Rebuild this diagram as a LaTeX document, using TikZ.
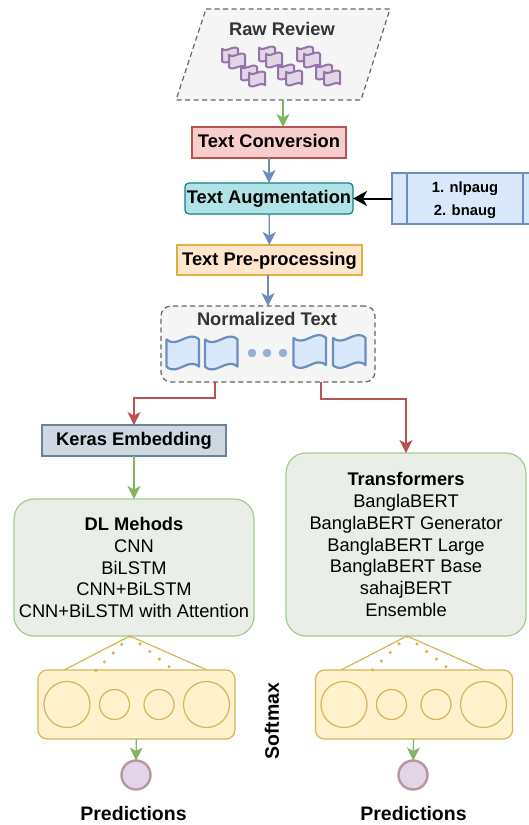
\documentclass[tikz,border=0pt]{standalone}
\usepackage{fontspec}
\setmainfont{Liberation Sans}
\usetikzlibrary{arrows.meta,calc}
\definecolor{graybg}{HTML}{F5F5F5}
\definecolor{grayln}{HTML}{666666}
\definecolor{purbg}{HTML}{E1D5E7}
\definecolor{purln}{HTML}{9673A6}
\definecolor{redbg}{HTML}{F8CECC}
\definecolor{redln}{HTML}{B85450}
\definecolor{tealbg}{HTML}{B0E3E6}
\definecolor{tealln}{HTML}{0E8088}
\definecolor{orbg}{HTML}{FFE6CC}
\definecolor{orln}{HTML}{E0B040}
\definecolor{blbg}{HTML}{DAE8FC}
\definecolor{blln}{HTML}{6C8EBF}
\definecolor{kerbg}{HTML}{CDD8E2}
\definecolor{kerln}{HTML}{6B8299}
\definecolor{grnbg}{HTML}{E9EEE9}
\definecolor{grnln}{HTML}{A3CC8C}
\definecolor{grnar}{HTML}{82B366}
\definecolor{yelbg}{HTML}{FFF2CC}
\definecolor{yelln}{HTML}{D6B656}
\definecolor{predln}{HTML}{B5979F}
\definecolor{dark}{HTML}{333333}
\tikzset{
  x=1pt,y=-1pt,
  every node/.style={inner sep=0pt,outer sep=0pt},
  procbox/.style={draw,line width=1.2pt,font=\fontsize{18.3}{20}\selectfont\bfseries,text height=13.5pt,text depth=3.5pt},
  greenbox/.style={draw=grnln,fill=grnbg,line width=1.2pt,rounded corners=20pt,minimum width=240pt,align=center,
     font=\fontsize{18.3}{21.8}\selectfont},
  yelbox/.style={draw=yelln,fill=yelbg,line width=1.2pt,rounded corners=9pt,minimum width=197pt,minimum height=69pt},
  neuron/.style={circle,draw=yelln,line width=1.2pt},
  pred/.style={circle,draw=predln,fill=purbg,line width=2.4pt,minimum size=29pt},
  flow/.style={line width=1.3pt,-{Stealth[length=13pt,width=13pt,inset=3.5pt]}},
  tapeln/.style={line width=2.2pt,line join=round},
  smalltape/.style={line width=2pt,line join=round},
  caption/.style={font=\fontsize{19.5}{22}\selectfont\bfseries},
  yeltri/.style={draw=yelln,line width=1.2pt},
  yeldot/.style={draw=yelln,line width=2.5pt,dash pattern=on 2.5pt off 9.8pt}
}
% x y w h fill draw style
\newcommand\tapeat[7]{%
  \begin{scope}[shift={(#1,#2)},x=#3pt,y=-#4pt]
    \draw[#7,fill=#5,draw=#6] (0,.11) .. controls (.33,.39) and (.67,-.17) .. (1,.11)
      -- (1,.89) .. controls (.67,.61) and (.33,1.17) .. (0,.89) -- cycle;
  \end{scope}}
\newcommand\tapegroup[2]{%
  \tapeat{#1}{#2}{16}{16}{purbg}{purln}{smalltape}
  \tapeat{\the\numexpr#1+7\relax}{\the\numexpr#2+6\relax}{16}{16}{purbg}{purln}{smalltape}
  \tapeat{\the\numexpr#1+19\relax}{\the\numexpr#2+18\relax}{16}{16}{purbg}{purln}{smalltape}
  \tapeat{\the\numexpr#1+27\relax}{\the\numexpr#2+24\relax}{16}{16}{purbg}{purln}{smalltape}}
\begin{document}
\begin{tikzpicture}
\useasboundingbox (0,0) rectangle (529,825);
\clip (0,0) rectangle (529,825);
% raw review
\coordinate (rawA) at (206,9);
\coordinate (rawB) at (390,9);
\coordinate (rawC) at (361,100);
\coordinate (rawD) at (176,100);
\coordinate (rawout) at (283,100);
\draw[fill=graybg,draw=grayln,line width=1.2pt,dash pattern=on 5pt off 3.5pt] (rawA) -- (rawB) -- (rawC) -- (rawD) -- cycle;
\node[font=\fontsize{18.3}{20}\selectfont\bfseries,text=dark] (rawtitle) at (282,29) {Raw Review};
\tapegroup{222}{47}
\tapegroup{259}{46}
\tapegroup{297}{46}
% process boxes
\node[procbox,draw=redln,fill=redbg,minimum width=154pt,minimum height=31pt] (conv) at (269,142.5) {Text Conversion};
\node[procbox,draw=tealln,fill=tealbg,minimum width=168pt,minimum height=31pt,rounded corners=4pt] (aug) at (269,198.5) {Text Augmentation};
\node[procbox,draw=orln,fill=orbg,minimum width=185pt,minimum height=30pt] (prep) at (269.5,260) {Text Pre-processing};
% side box
\node[draw=blln,fill=blbg,line width=1.2pt,minimum width=146pt,minimum height=51pt] (side) at (465,198.5) {};
\draw[blln,line width=1.2pt] (407,173) -- (407,224) (523,173) -- (523,224);
\node[font=\fontsize{14.8}{16}\selectfont\bfseries] (sideA) at (465,189) {1. nlpaug};
\node[font=\fontsize{14.8}{16}\selectfont\bfseries] (sideB) at (465,212) {2. bnaug};
% normalized
\node[draw=grayln,fill=graybg,line width=1.2pt,dash pattern=on 5pt off 3.5pt,rounded corners=10pt,minimum width=214pt,minimum height=76pt] (norm) at (268,344) {};
\node[font=\fontsize{18.3}{20}\selectfont\bfseries,text=dark] (normtitle) at (267,319) {Normalized Text};
\tapeat{166.5}{335.5}{32.5}{35}{blbg}{blln}{tapeln}
\tapeat{205}{335.5}{32.5}{35}{blbg}{blln}{tapeln}
\tapeat{293.5}{334}{32.5}{35}{blbg}{blln}{tapeln}
\tapeat{333}{334}{32.5}{35}{blbg}{blln}{tapeln}
\fill[blln!70] (252,353) circle (4.3) (267,353) circle (4.3) (283,353) circle (4.3);
% keras
\node[draw=kerln,fill=kerbg,line width=1.2pt,minimum width=184pt,minimum height=31pt,font=\fontsize{18.3}{20}\selectfont\bfseries,text height=13.5pt,text depth=3.5pt] (keras) at (134,440.5) {Keras Embedding};
% model boxes
\node[greenbox,minimum height=137pt] (dl) at (134,567.5) {\textbf{DL Mehods}\\CNN\\BiLSTM\\CNN+BiLSTM\\CNN+BiLSTM with Attention};
\node[greenbox,minimum height=183pt] (tr) at (406,544.5) {\textbf{Transformers}\\BanglaBERT\\BanglaBERT Generator\\BanglaBERT Large\\BanglaBERT Base\\sahajBERT\\Ensemble};
% softmax
\coordinate (apexL) at (130,636);
\coordinate (apexR) at (407,636);
\draw[yeltri] (64,670) -- (apexL) -- (207,670);
\draw[yeltri] (341,670) -- (apexR) -- (484,670);
\node[yelbox] (softL) at (136.5,704.5) {};
\node[yelbox] (softR) at (414,704.5) {};
\draw[yeldot] (95,671.5) -- (apexL);
\draw[yeldot] (170,667.5) -- (apexL);
\draw[yeldot] (371.7,670.5) -- (apexR);
\draw[yeldot] (447,667.5) -- (apexR);
\node[neuron,minimum size=46pt] (l1) at (67,704.5) {};
\node[neuron,minimum size=30pt] (l2) at (114.5,704.5) {};
\node[neuron,minimum size=30pt] (l3) at (159,704.5) {};
\node[neuron,minimum size=46pt] (l4) at (206.5,704.5) {};
\node[neuron,minimum size=46pt] (r1) at (344,704.5) {};
\node[neuron,minimum size=30pt] (r2) at (391.5,704.5) {};
\node[neuron,minimum size=30pt] (r3) at (436,704.5) {};
\node[neuron,minimum size=46pt] (r4) at (483.5,704.5) {};
\node[pred] (pl) at (136,775) {};
\node[pred] (pr) at (413,775) {};
\node[caption] (capL) at (133.5,814) {Predictions};
\node[caption] (capR) at (413.5,814) {Predictions};
\node[font=\fontsize{19.5}{22}\selectfont\bfseries,rotate=90] (softmax) at (272,721) {Softmax};
% connectors
\draw[flow,grnar] (rawout) -- (rawout |- conv.north);
\draw[flow,blln] (conv) -- (aug);
\draw[flow,blln] (aug) -- (prep);
\draw[flow,blln] (prep.south -| norm) -- (norm);
\draw[line width=2pt,-{Stealth[length=14pt,width=15pt,inset=4pt]},black] (side.west |- aug) -- (aug.east);
\draw[flow,redln,line width=1.2pt] ([xshift=-53pt]norm.south) -- ++(0,16) -| (keras.north);
\draw[flow,redln,line width=1.2pt] ([xshift=53pt]norm.south) -- ++(0,17) -| (tr.north);
\draw[flow,grnar] (keras) -- (dl);
\draw[flow,grnar] (softL) -- (pl);
\draw[flow,grnar] (softR) -- (pr);
\end{tikzpicture}
\end{document}
